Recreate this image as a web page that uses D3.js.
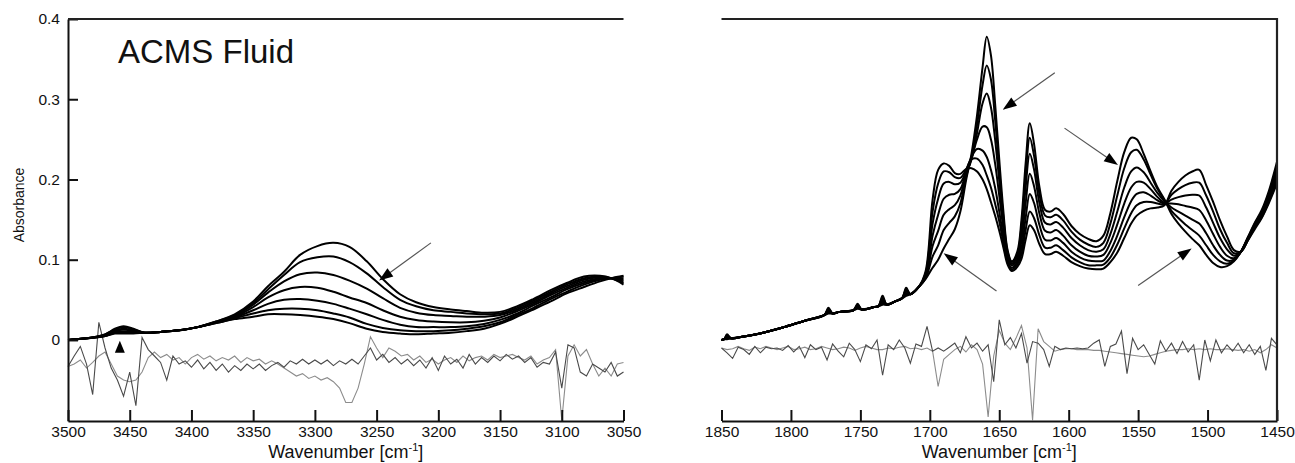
<!DOCTYPE html>
<html>
<head>
<meta charset="utf-8">
<script src="https://cdn.jsdelivr.net/npm/d3@7"></script>
<style>
  html, body { margin: 0; padding: 0; background: #fff; }
  svg { display: block; font-family: "Liberation Sans", Arial, Helvetica, sans-serif; }
</style>
</head>
<body>
<svg id="chart" width="1295" height="463"></svg>
<script>
// ---------- O–H / N–H stretch region (left panel) ----------
const leftWn = [3500, 3485, 3470, 3462, 3455, 3447, 3438, 3425, 3410, 3395, 3380, 3365, 3350, 3338, 3325, 3312, 3298, 3285,
  3272, 3258, 3245, 3231, 3218, 3204, 3190, 3177, 3163, 3150, 3136, 3123, 3109, 3096, 3082, 3069, 3060, 3050];

const leftS1 = [0.000,0.002,0.007,0.014,0.017,0.014,0.009,0.010,0.012,0.016,0.023,0.032,0.048,0.067,0.085,0.106,0.117,0.121,
  0.116,0.098,0.076,0.057,0.047,0.041,0.038,0.036,0.034,0.035,0.042,0.051,0.062,0.071,0.079,0.080,0.077,0.069];
const leftS2 = [0.000,0.002,0.007,0.013,0.016,0.013,0.009,0.010,0.012,0.016,0.023,0.031,0.046,0.063,0.081,0.097,0.103,0.104,
  0.097,0.083,0.066,0.050,0.042,0.037,0.035,0.033,0.032,0.033,0.040,0.049,0.060,0.069,0.077,0.079,0.077,0.071];
const leftS3 = [0.000,0.002,0.006,0.012,0.014,0.012,0.009,0.010,0.012,0.016,0.022,0.030,0.044,0.059,0.073,0.082,0.084,0.081,
  0.074,0.064,0.052,0.040,0.034,0.031,0.030,0.029,0.029,0.031,0.038,0.047,0.058,0.067,0.075,0.078,0.077,0.073];
const leftS4 = [0.000,0.002,0.006,0.011,0.013,0.011,0.009,0.010,0.012,0.016,0.022,0.029,0.041,0.053,0.062,0.066,0.065,0.060,
  0.053,0.046,0.037,0.029,0.025,0.023,0.022,0.022,0.024,0.028,0.036,0.045,0.056,0.065,0.073,0.077,0.077,0.075];
const leftS5 = [0.000,0.002,0.005,0.010,0.011,0.010,0.009,0.010,0.012,0.016,0.022,0.028,0.037,0.045,0.050,0.051,0.049,0.045,
  0.039,0.032,0.025,0.019,0.016,0.016,0.016,0.017,0.020,0.025,0.033,0.043,0.053,0.063,0.071,0.076,0.077,0.077];
const leftS6 = [0.000,0.002,0.005,0.009,0.010,0.009,0.009,0.010,0.012,0.016,0.021,0.027,0.033,0.037,0.039,0.039,0.037,0.033,
  0.028,0.020,0.015,0.012,0.011,0.011,0.012,0.014,0.017,0.022,0.031,0.040,0.051,0.060,0.069,0.075,0.077,0.079];
const leftS7 = [0.000,0.002,0.005,0.008,0.008,0.008,0.009,0.010,0.012,0.016,0.021,0.026,0.029,0.032,0.032,0.031,0.029,0.026,
  0.021,0.014,0.010,0.008,0.007,0.008,0.009,0.011,0.014,0.020,0.029,0.038,0.048,0.058,0.066,0.073,0.077,0.080];

// difference traces, sampled every 5 cm-1 from 3500 down to 3050
const leftDiffDark = [
  -0.033,-0.020,-0.008,-0.030,-0.068, 0.022,-0.010,-0.035,-0.050,-0.070,
  -0.040,-0.082, 0.003,-0.012,-0.020,-0.028,-0.050,-0.020,-0.030,-0.026,
  -0.034,-0.025,-0.036,-0.028,-0.038,-0.030,-0.040,-0.032,-0.038,-0.030,
  -0.036,-0.030,-0.038,-0.032,-0.028,-0.034,-0.026,-0.030,-0.024,-0.030,
  -0.025,-0.030,-0.025,-0.032,-0.026,-0.030,-0.024,-0.030,-0.020,-0.010,
  -0.025,-0.018,-0.028,-0.022,-0.030,-0.024,-0.032,-0.025,-0.035,-0.022,
  -0.038,-0.020,-0.030,-0.024,-0.035,-0.018,-0.030,-0.022,-0.028,-0.020,
  -0.026,-0.018,-0.024,-0.020,-0.028,-0.022,-0.034,-0.028,-0.030,-0.015,
  -0.060,-0.006,-0.010,-0.040,-0.045,-0.030,-0.035,-0.040,-0.028,-0.045,
  -0.040];
const leftDiffLight = [
  -0.033,-0.030,-0.025,-0.035,-0.028,-0.020,-0.015,-0.030,-0.045,-0.050,
  -0.052,-0.050,-0.040,-0.022,-0.015,-0.022,-0.018,-0.025,-0.022,-0.030,
  -0.022,-0.018,-0.024,-0.020,-0.026,-0.022,-0.025,-0.020,-0.028,-0.022,
  -0.026,-0.024,-0.030,-0.026,-0.030,-0.035,-0.040,-0.045,-0.042,-0.048,
  -0.045,-0.050,-0.047,-0.052,-0.060,-0.078,-0.078,-0.060,-0.030, 0.004,
  -0.010,-0.022,-0.010,-0.014,-0.020,-0.018,-0.025,-0.020,-0.028,-0.024,
  -0.030,-0.025,-0.022,-0.028,-0.020,-0.026,-0.022,-0.020,-0.025,-0.018,
  -0.022,-0.020,-0.018,-0.022,-0.025,-0.020,-0.030,-0.025,-0.022,-0.012,
  -0.100,-0.020,-0.006,-0.020,-0.012,-0.030,-0.045,-0.035,-0.045,-0.030,
  -0.028];

// ---------- amide / carbonyl region (right panel) ----------
const rightWn = [1850, 1848, 1846, 1843, 1835, 1820, 1805, 1790, 1776, 1773, 1770, 1765, 1755, 1752, 1749, 1740, 1737, 1734,
  1731, 1725, 1720, 1717, 1714, 1708, 1703, 1698, 1694, 1690, 1686, 1682,
  1678, 1674, 1670, 1666, 1662, 1659, 1656, 1653, 1650, 1647, 1644, 1641, 1637, 1634, 1631, 1628, 1625, 1621, 1617, 1613,
  1609, 1604, 1598, 1592, 1586, 1580, 1575, 1570, 1565, 1560, 1555, 1551, 1546, 1541, 1536, 1531, 1526, 1521, 1516, 1511,
  1506, 1501, 1496, 1491, 1486, 1481, 1476, 1471, 1466, 1461, 1456, 1450];

const rightS1 = [0.000,0.001,0.007,0.002,0.004,0.009,0.016,0.024,0.031,0.040,0.033,0.035,0.037,0.045,0.038,0.041,0.042,0.055,
  0.044,0.048,0.052,0.065,0.057,0.066,
  0.076,0.090,0.100,0.114,0.126,0.138,0.160,0.198,0.232,0.280,0.340,0.378,0.355,0.295,0.225,0.160,0.112,0.098,
  0.110,0.150,0.220,0.270,0.245,0.190,0.162,0.160,0.164,0.157,0.142,0.132,0.126,0.123,0.130,0.158,0.198,0.234,
  0.252,0.250,0.232,0.210,0.190,0.175,0.157,0.145,0.135,0.126,0.118,0.106,0.096,0.091,0.092,0.098,0.110,0.128,
  0.146,0.162,0.185,0.222];
const rightS2 = [0.000,0.001,0.006,0.002,0.004,0.009,0.016,0.024,0.031,0.039,0.033,0.035,0.037,0.044,0.038,0.041,0.042,0.053,
  0.044,0.048,0.052,0.063,0.057,0.066,
  0.077,0.104,0.118,0.137,0.146,0.154,0.170,0.202,0.228,0.268,0.318,0.342,0.325,0.275,0.212,0.152,0.110,0.097,
  0.107,0.142,0.205,0.252,0.230,0.181,0.155,0.153,0.156,0.149,0.135,0.125,0.119,0.116,0.121,0.145,0.180,0.214,
  0.234,0.237,0.225,0.206,0.188,0.174,0.161,0.152,0.144,0.137,0.130,0.118,0.106,0.098,0.095,0.099,0.110,0.127,
  0.145,0.160,0.182,0.217];
const rightS3 = [0.000,0.001,0.005,0.002,0.004,0.009,0.016,0.024,0.031,0.038,0.033,0.035,0.037,0.043,0.038,0.041,0.042,0.051,
  0.044,0.048,0.052,0.062,0.057,0.066,
  0.078,0.117,0.136,0.156,0.163,0.168,0.180,0.205,0.225,0.258,0.295,0.307,0.290,0.250,0.198,0.145,0.107,0.095,
  0.104,0.134,0.190,0.232,0.213,0.170,0.146,0.144,0.147,0.140,0.127,0.118,0.112,0.110,0.113,0.132,0.160,0.190,
  0.210,0.215,0.209,0.196,0.183,0.173,0.165,0.160,0.155,0.150,0.145,0.133,0.118,0.106,0.099,0.100,0.110,0.127,
  0.144,0.158,0.180,0.212];
const rightS4 = [0.000,0.001,0.004,0.002,0.004,0.009,0.016,0.024,0.031,0.036,0.033,0.035,0.037,0.042,0.038,0.041,0.042,0.050,
  0.044,0.048,0.052,0.060,0.057,0.066,
  0.079,0.130,0.156,0.176,0.181,0.182,0.188,0.208,0.226,0.250,0.266,0.265,0.250,0.220,0.180,0.138,0.104,0.093,
  0.100,0.124,0.170,0.207,0.192,0.157,0.136,0.134,0.137,0.130,0.118,0.110,0.105,0.104,0.106,0.121,0.144,0.170,
  0.190,0.197,0.196,0.188,0.178,0.171,0.170,0.169,0.167,0.165,0.162,0.149,0.132,0.116,0.105,0.102,0.110,0.126,
  0.143,0.157,0.178,0.207];
const rightS5 = [0.000,0.001,0.003,0.002,0.004,0.009,0.016,0.024,0.031,0.035,0.033,0.035,0.037,0.041,0.038,0.041,0.042,0.048,
  0.044,0.048,0.052,0.058,0.057,0.066,
  0.081,0.145,0.176,0.195,0.197,0.194,0.196,0.210,0.228,0.238,0.236,0.228,0.212,0.190,0.160,0.128,0.100,0.090,
  0.097,0.114,0.152,0.182,0.171,0.143,0.125,0.124,0.127,0.121,0.110,0.103,0.099,0.098,0.099,0.111,0.130,0.153,
  0.173,0.182,0.184,0.180,0.174,0.170,0.175,0.178,0.180,0.181,0.180,0.165,0.146,0.127,0.113,0.105,0.110,0.125,
  0.141,0.155,0.175,0.202];
const rightS6 = [0.000,0.001,0.002,0.002,0.004,0.009,0.016,0.024,0.031,0.034,0.033,0.035,0.037,0.040,0.038,0.041,0.042,0.046,
  0.044,0.048,0.052,0.057,0.057,0.066,
  0.083,0.160,0.195,0.210,0.209,0.203,0.202,0.212,0.225,0.226,0.218,0.205,0.190,0.170,0.148,0.121,0.097,0.088,
  0.094,0.107,0.137,0.160,0.152,0.130,0.115,0.115,0.118,0.112,0.103,0.097,0.093,0.093,0.094,0.103,0.119,0.139,
  0.158,0.168,0.172,0.172,0.170,0.169,0.181,0.188,0.193,0.196,0.196,0.180,0.160,0.138,0.121,0.108,0.110,0.124,
  0.140,0.153,0.172,0.198];
const rightS7 = [0.000,0.001,0.001,0.002,0.004,0.009,0.016,0.024,0.031,0.033,0.033,0.035,0.037,0.039,0.038,0.041,0.042,0.044,
  0.044,0.048,0.052,0.055,0.057,0.066,
  0.086,0.175,0.212,0.220,0.217,0.208,0.207,0.213,0.214,0.210,0.200,0.188,0.172,0.155,0.136,0.115,0.094,0.086,
  0.091,0.101,0.125,0.143,0.137,0.119,0.107,0.107,0.110,0.105,0.097,0.092,0.089,0.088,0.089,0.097,0.109,0.127,
  0.145,0.155,0.161,0.164,0.165,0.168,0.186,0.197,0.205,0.210,0.212,0.193,0.172,0.149,0.129,0.112,0.110,0.124,
  0.138,0.152,0.170,0.195];

// difference traces, sampled every 4 cm-1 from 1850 down to 1450
const rightDiffDark = [
  -0.010,-0.016,-0.023,-0.009,-0.012,-0.018,-0.008,-0.016,-0.009,-0.011,
  -0.010,-0.013,-0.007,-0.015,-0.008,-0.022,-0.006,-0.012,-0.009,-0.025,
  -0.005,-0.014,-0.021,-0.004,-0.012,-0.027,-0.006,-0.011, 0.000,-0.044,
  -0.006,-0.012, 0.000,-0.010,-0.029,-0.005,-0.008, 0.017,-0.014,-0.010,
  -0.014,-0.009,-0.004,-0.016, 0.004,-0.010,-0.004,-0.014,-0.006,-0.052,
   0.025,-0.006, 0.003,-0.010, 0.008,-0.029,-0.002,-0.004,-0.012,-0.033,
  -0.008,-0.012,-0.010,-0.011,-0.010,-0.011,-0.010,-0.004, 0.000,-0.033,
  -0.008,-0.005, 0.011,-0.042, 0.002,-0.012,-0.006,-0.018,-0.030,-0.001,
  -0.014,-0.004,-0.017,-0.002,-0.015,-0.006,-0.050, 0.000,-0.026, 0.000,
  -0.016,-0.006,-0.014,-0.004,-0.016,-0.006,-0.018,-0.008,-0.038, 0.002,
  -0.006];
const rightDiffLight = [
  -0.010,-0.012,-0.011,-0.008,-0.011,-0.013,-0.009,-0.011,-0.008,-0.010,
  -0.012,-0.010,-0.008,-0.012,-0.011,-0.009,-0.012,-0.011,-0.008,-0.010,
  -0.012,-0.011,-0.009,-0.010,-0.013,-0.010,-0.008,-0.010,-0.012,-0.012,
  -0.010,-0.011,-0.009,-0.008,-0.011,-0.010,-0.012,-0.010,-0.014,-0.058,
  -0.024,-0.018,-0.012,-0.008,-0.015,-0.006,-0.012,-0.030,-0.096,-0.020,
   0.012,-0.004,-0.012, 0.002, 0.018,-0.010,-0.100, 0.014,-0.002,-0.008,
  -0.014,-0.012,-0.011,-0.011,-0.012,-0.012,-0.012,-0.013,-0.013,-0.014,
  -0.015,-0.016,-0.017,-0.018,-0.019,-0.020,-0.021,-0.020,-0.018,-0.016,
  -0.014,-0.013,-0.012,-0.012,-0.011,-0.012,-0.011,-0.012,-0.011,-0.012,
  -0.012,-0.011,-0.012,-0.013,-0.012,-0.014,-0.012,-0.016,-0.012,-0.006,
  -0.010];

// axis ticks
const yTicks = [0, 0.1, 0.2, 0.3, 0.4];
const leftXTicks = [3500, 3450, 3400, 3350, 3300, 3250, 3200, 3150, 3100, 3050];
const rightXTicks = [1850, 1800, 1750, 1700, 1650, 1600, 1550, 1500, 1450];

// annotation arrows, in data units [wavenumber, absorbance]
const leftArrows = [
  { from: [3206, 0.121], to: [3248, 0.074] },
  { from: [3458, -0.016], to: [3458, -0.001] }
];
const rightArrows = [
  { from: [1610, 0.333], to: [1647.5, 0.287] },
  { from: [1603, 0.264], to: [1564.5, 0.218] },
  { from: [1652, 0.061], to: [1690, 0.108] },
  { from: [1550, 0.068], to: [1511.5, 0.114] }
];

// ---------- drawing ----------
const svg = d3.select("#chart");
const yTop = 19, yBot = 421;
const y = d3.scaleLinear().domain([-0.101, 0.4]).range([yBot, yTop]);
const xL = d3.scaleLinear().domain([3500, 3050]).range([68, 623.5]);
const xR = d3.scaleLinear().domain([1850, 1450]).range([721.5, 1277]);

function zip(xs, ys) { return xs.map((v, i) => [v, ys[i]]); }

function drawPanel(x, wn, spectra, diffWn, diffLight, diffDark, arrows) {
  const g = svg.append("g");
  const trace = d3.line().x(d => x(d[0])).y(d => y(d[1]));
  const smooth = d3.line().x(d => x(d[0])).y(d => y(d[1])).curve(d3.curveCatmullRom.alpha(0.5));

  g.append("path").attr("d", trace(zip(diffWn, diffLight)))
    .attr("fill", "none").attr("stroke", "#8c8c8c").attr("stroke-width", 1.1);
  g.append("path").attr("d", trace(zip(diffWn, diffDark)))
    .attr("fill", "none").attr("stroke", "#4a4a4a").attr("stroke-width", 1.1);

  g.selectAll("path.spec").data(spectra).enter().append("path")
    .attr("class", "spec")
    .attr("d", s => smooth(zip(wn, s)))
    .attr("fill", "none").attr("stroke", "#000")
    .attr("stroke-width", 2).attr("stroke-linejoin", "round");

  arrows.forEach(a => {
    const x0 = x(a.from[0]), y0 = y(a.from[1]);
    const x1 = x(a.to[0]), y1 = y(a.to[1]);
    const dx = x1 - x0, dy = y1 - y0, len = Math.hypot(dx, dy);
    const ux = dx / len, uy = dy / len;
    const hl = Math.min(14, len), hw = 5;
    const bx = x1 - ux * hl, by = y1 - uy * hl;
    if (len > hl + 1) {
      g.append("line").attr("x1", x0).attr("y1", y0).attr("x2", bx + ux * 2).attr("y2", by + uy * 2)
        .attr("stroke", "#555").attr("stroke-width", 1.2);
    }
    g.append("path")
      .attr("d", `M${x1},${y1}L${bx - uy * hw},${by + ux * hw}L${bx + uy * hw},${by - ux * hw}Z`)
      .attr("fill", "#000");
  });
  return g;
}

drawPanel(xL, leftWn, [leftS1, leftS2, leftS3, leftS4, leftS5, leftS6, leftS7],
  d3.range(3500, 3049, -5), leftDiffLight, leftDiffDark, leftArrows);
drawPanel(xR, rightWn, [rightS1, rightS2, rightS3, rightS4, rightS5, rightS6, rightS7],
  d3.range(1850, 1449, -4), rightDiffLight, rightDiffDark, rightArrows);

function styleAxis(g) {
  g.attr("font-size", 15.5).attr("font-family", '"Liberation Sans", Arial, Helvetica, sans-serif');
  g.selectAll("text").attr("fill", "#111");
  g.selectAll("line").attr("stroke", "#111").attr("stroke-width", 2);
  g.select(".domain").attr("stroke", "#111").attr("stroke-width", 2);
}

// bottom axes, ticks pointing inward
svg.append("g").attr("transform", `translate(0,${yBot})`)
  .call(d3.axisBottom(xL).tickValues(leftXTicks).tickSizeInner(-11).tickSizeOuter(0).tickPadding(5).tickFormat(d3.format("d")))
  .call(styleAxis);
svg.append("g").attr("transform", `translate(0,${yBot})`)
  .call(d3.axisBottom(xR).tickValues(rightXTicks).tickSizeInner(-11).tickSizeOuter(0).tickPadding(5).tickFormat(d3.format("d")))
  .call(styleAxis);

// left absorbance axis
svg.append("g").attr("transform", `translate(${xL.range()[0]},0)`)
  .call(d3.axisLeft(y).tickValues(yTicks).tickSizeInner(-10).tickSizeOuter(0).tickPadding(8)
    .tickFormat(d => d === 0 ? "0" : d.toFixed(1)))
  .call(styleAxis);

// frame lines
svg.append("path").attr("d", `M${xL.range()[0]},${y(0.4)}H${xL.range()[1]}`)
  .attr("stroke", "#222").attr("stroke-width", 2.2).attr("fill", "none");
svg.append("path").attr("d", `M${xR.range()[0]},${y(0.4)}H${xR.range()[1]}V${yBot}`)
  .attr("stroke", "#222").attr("stroke-width", 2.2).attr("fill", "none");

// labels
svg.append("text").attr("x", 118).attr("y", 63).attr("font-size", 33).attr("fill", "#111").text("ACMS Fluid");

svg.append("text").attr("transform", "translate(24,205) rotate(-90)")
  .attr("text-anchor", "middle").attr("font-size", 14).attr("fill", "#111").text("Absorbance");

function xTitle(cx) {
  const t = svg.append("text").attr("x", cx).attr("y", 458).attr("text-anchor", "middle")
    .attr("font-size", 18).attr("fill", "#111");
  t.append("tspan").text("Wavenumber [cm");
  t.append("tspan").attr("font-size", 11).attr("dy", -7).text("-1");
  t.append("tspan").attr("dy", 7).text("]");
}
xTitle((xL.range()[0] + xL.range()[1]) / 2);
xTitle((xR.range()[0] + xR.range()[1]) / 2);
</script>
</body>
</html>
